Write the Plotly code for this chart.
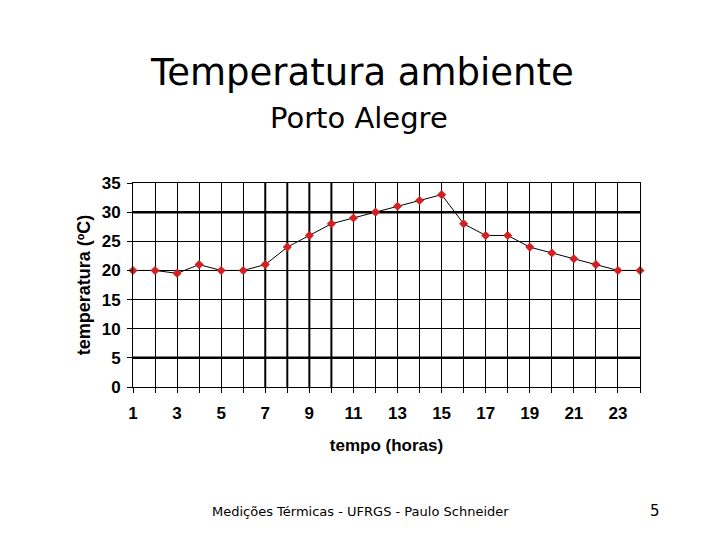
import plotly.graph_objects as go

hours = list(range(1, 25))
temps = [20, 20, 19.5, 21, 20, 20, 21, 24, 26, 28, 29, 30, 31, 32, 33,
         28, 26, 26, 24, 23, 22, 21, 20, 20]
x_tick_vals = list(range(1, 25))
x_tick_text = [str(v) if v % 2 == 1 else "" for v in x_tick_vals]
y_tick_vals = [0, 5, 10, 15, 20, 25, 30, 35]
thick_x = [7, 8, 9, 10]
thick_y = [5, 30]

# page body has an 8px offset
OFF = 8
L, R, T, B = 133 - OFF, 728 - 640, 183 - OFF, 548 - 387
W, H = 720, 540

fig = go.Figure()
fig.add_trace(go.Scatter(
    x=hours, y=temps, mode="lines+markers",
    line=dict(color="black", width=1),
    marker=dict(symbol="diamond", size=7, color="#d42020"),
    showlegend=False, cliponaxis=False,
))

for xv in thick_x:
    fig.add_shape(type="line", x0=xv, x1=xv, y0=0, y1=35, xref="x", yref="y",
                  line=dict(color="black", width=2), layer="below")
for yv in thick_y:
    fig.add_shape(type="line", x0=1, x1=24, y0=yv, y1=yv, xref="x", yref="y",
                  line=dict(color="black", width=2.5), layer="below")

fam = "Liberation Sans, Arial, sans-serif"
fig.update_layout(
    width=W, height=H,
    margin=dict(l=L, r=R, t=T, b=B),
    paper_bgcolor="white", plot_bgcolor="white",
    font=dict(family=fam, color="black"),
    xaxis=dict(
        range=[1, 24], tickmode="array", tickvals=x_tick_vals, ticktext=x_tick_text,
        showgrid=True, gridcolor="black", gridwidth=1,
        ticks="outside", ticklen=5, tickcolor="black", tickwidth=1,
        ticklabelstandoff=6,
        showline=True, linecolor="black", linewidth=1, mirror=True,
        zeroline=False,
        tickfont=dict(family=fam, size=17, color="black", weight="bold"),
        title=dict(text="<b>tempo (horas)</b>", font=dict(family=fam, size=17, color="black"), standoff=16),
    ),
    yaxis=dict(
        range=[0, 35], tickmode="array", tickvals=y_tick_vals,
        showgrid=True, gridcolor="black", gridwidth=1,
        ticks="outside", ticklen=5, tickcolor="black", tickwidth=1,
        ticklabelstandoff=3,
        showline=True, linecolor="black", linewidth=1, mirror=True,
        zeroline=False,
        tickfont=dict(family=fam, size=17, color="black", weight="bold"),
        title=dict(text="<b>temperatura (ºC)</b>", font=dict(family=fam, size=18, color="black"), standoff=6),
    ),
)

plot_h = H - T - B
plot_w = W - L - R
def py(ypix):
    return (H - B - (ypix - OFF)) / plot_h
def px(xpix):
    return ((xpix - OFF) - L) / plot_w

fig.add_annotation(text="Temperatura ambiente", x=px(362), y=py(73), xref="paper", yref="paper",
                   showarrow=False, font=dict(family="DejaVu Sans", size=37, color="black"),
                   xanchor="center", yanchor="middle")
fig.add_annotation(text="Porto Alegre", x=px(359), y=py(118), xref="paper", yref="paper",
                   showarrow=False, font=dict(family="DejaVu Sans", size=29, color="black"),
                   xanchor="center", yanchor="middle")
fig.add_annotation(text="Medições Térmicas - UFRGS - Paulo Schneider", x=px(360), y=py(511),
                   xref="paper", yref="paper", showarrow=False,
                   font=dict(family="DejaVu Sans", size=13, color="black"),
                   xanchor="center", yanchor="middle")
fig.add_annotation(text="5", x=px(655), y=py(511), xref="paper", yref="paper", showarrow=False,
                   font=dict(family="DejaVu Sans", size=15, color="black"),
                   xanchor="center", yanchor="middle")

fig.write_html("out.html")
